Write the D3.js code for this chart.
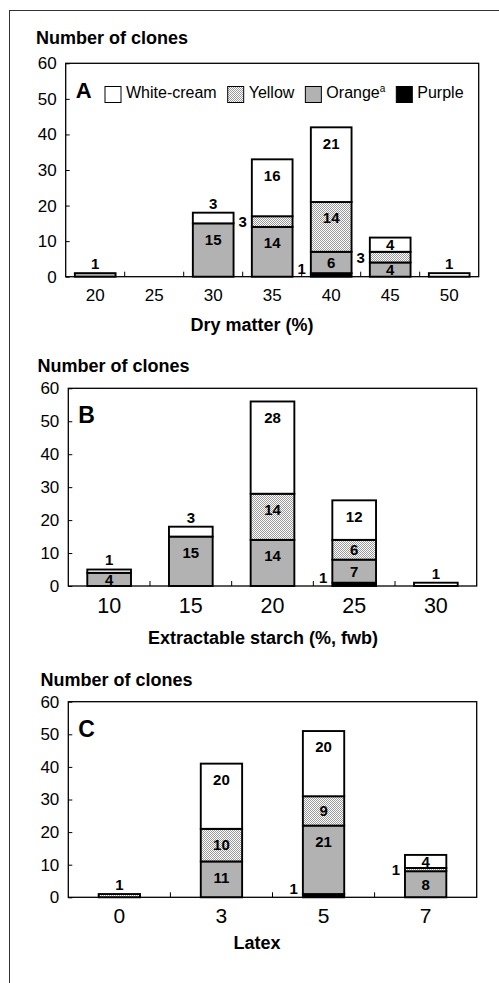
<!DOCTYPE html>
<meta charset="utf-8">
<style>
  body { margin: 0; background: #fff; }
  text { font-family: Arial, "Liberation Sans", sans-serif; }
</style>
<body>
<div id="chart"></div>
<script src="https://d3js.org/d3.v7.min.js"></script>
<script>

// colour classes, stacked bottom -> top
const keys = ["Purple", "Orange", "Yellow", "White-cream"];
const legendKeys = ["White-cream", "Yellow", "Orange", "Purple"];
const yTicks = [0, 10, 20, 30, 40, 50, 60];

// A: dry matter (%)
const catsA = ["20", "25", "30", "35", "40", "45", "50"];
const purpleA = [0, 0, 0, 0, 1, 0, 0];
const orangeA = [1, 0, 15, 14, 6, 4, 0];
const yellowA = [0, 0, 0, 3, 14, 3, 0];
const whiteA = [0, 0, 3, 16, 21, 4, 1];

// B: extractable starch (%, fwb)
const catsB = ["10", "15", "20", "25", "30"];
const purpleB = [0, 0, 0, 1, 0];
const orangeB = [4, 15, 14, 7, 0];
const yellowB = [0, 0, 14, 6, 0];
const whiteB = [1, 3, 28, 12, 1];

// C: latex
const catsC = ["0", "3", "5", "7"];
const purpleC = [0, 0, 1, 0];
const orangeC = [0, 11, 21, 8];
const yellowC = [1, 10, 9, 1];
const whiteC = [0, 20, 20, 4];

const svg = d3.select("#chart").append("svg")
    .attr("width", 499)
    .attr("height", 983);

// dotted fill for yellow
const pat = svg.append("defs").append("pattern")
    .attr("id", "dots")
    .attr("width", 2).attr("height", 2)
    .attr("patternUnits", "userSpaceOnUse");
pat.append("rect").attr("width", 2).attr("height", 2).attr("fill", "#fff");
pat.append("rect").attr("width", 1).attr("height", 1).attr("fill", "#9a9a9a");
pat.append("rect").attr("x", 1).attr("y", 1).attr("width", 1).attr("height", 1).attr("fill", "#9a9a9a");

const fills = {"Purple": "#000", "Orange": "#b2b2b2", "Yellow": "url(#dots)", "White-cream": "#fff"};

// outer frame
svg.append("rect")
    .attr("x", 9.5).attr("y", 10.5)
    .attr("width", 500).attr("height", 1000)
    .attr("fill", "none")
    .attr("stroke", "#333")
    .attr("stroke-width", 1);

function drawPanel(p) {
  const rows = p.cats.map((c, i) => ({
    cat: c, "Purple": p.purple[i], "Orange": p.orange[i], "Yellow": p.yellow[i], "White-cream": p.white[i]
  }));
  const stacked = d3.stack().keys(keys)(rows);

  const x = d3.scaleBand()
    .domain(p.cats)
    .range([p.left, p.right])
    .paddingInner(p.pad)
    .paddingOuter(p.pad / 2);

  const y = d3.scaleLinear()
    .domain([0, 60])
    .range([p.bottom, p.top]);

  const g = svg.append("g");

  // y label on top
  g.append("text")
    .attr("x", p.ylabX).attr("y", p.ylabY)
    .attr("font-size", 18).attr("font-weight", "bold")
    .text("Number of clones");

  // y axis
  const ya = g.append("g")
    .attr("transform", `translate(${p.left},0)`)
    .call(d3.axisLeft(y).tickValues(yTicks).tickSize(-4).tickPadding(9));
  ya.select(".domain").remove();
  ya.attr("font-family", null).attr("font-size", 17);
  ya.selectAll("line").attr("stroke", "#000");
  ya.selectAll("text").attr("fill", "#000");

  // x axis
  const xa = g.append("g")
    .attr("transform", `translate(0,${p.bottom})`)
    .call(d3.axisBottom(x).tickSize(0).tickPadding(p.xPad));
  xa.select(".domain").remove();
  xa.attr("font-family", null).attr("font-size", p.xFont);
  xa.selectAll("text").attr("fill", "#000");

  // bin separators
  g.selectAll("line.sep")
    .data(d3.range(1, p.cats.length))
    .join("line")
      .attr("x1", i => p.left + i * x.step())
      .attr("x2", i => p.left + i * x.step())
      .attr("y1", p.bottom)
      .attr("y2", p.bottom - 5)
      .attr("stroke", "#000");

  // bars
  g.append("g").selectAll("g")
    .data(stacked)
    .join("g")
      .attr("fill", d => fills[d.key])
    .selectAll("rect")
    .data(d => d.filter(s => s[1] - s[0] > 0))
    .join("rect")
      .attr("x", s => x(s.data.cat))
      .attr("y", s => y(s[1]))
      .attr("width", x.bandwidth())
      .attr("height", s => y(s[0]) - y(s[1]))
      .attr("stroke", "#000")
      .attr("stroke-width", 1.9);

  // plot box
  g.append("rect")
    .attr("x", p.left).attr("y", p.top)
    .attr("width", p.right - p.left)
    .attr("height", p.bottom - p.top)
    .attr("fill", "none")
    .attr("stroke", "#000")
    .attr("stroke-width", 1.3);

  // value labels
  const labels = [];
  stacked.forEach(layer => layer.forEach(s => {
    const v = s[1] - s[0];
    if (v <= 0) return;
    const top = y(s[1]), h = y(s[0]) - top;
    const cx = x(s.data.cat) + x.bandwidth() / 2;
    const total = d3.sum(keys, k => s.data[k]);
    if (h >= 12) labels.push({v, lx: cx, ly: top + Math.min(h / 2, 16), a: "middle"});
    else if (s[1] === total) labels.push({v, lx: cx, ly: top - 9.5, a: "middle"});
    else labels.push({v, lx: x(s.data.cat) - 5, ly: Math.min(top + h / 2, p.bottom - 8.5), a: "end"});
  }));
  g.selectAll("text.val")
    .data(labels)
    .join("text")
      .attr("class", "val")
      .attr("x", d => d.lx)
      .attr("y", d => d.ly)
      .attr("dy", "0.36em")
      .attr("text-anchor", d => d.a)
      .attr("font-size", 15)
      .attr("font-weight", "bold")
      .text(d => d.v);

  // panel letter
  g.append("text")
    .attr("x", p.left + 10).attr("y", p.letterY)
    .attr("font-size", p.letterSize).attr("font-weight", "bold")
    .text(p.letter);

  // x title
  g.append("text")
    .attr("x", p.titleX).attr("y", p.titleY)
    .attr("text-anchor", "middle")
    .attr("font-size", 18).attr("font-weight", "bold")
    .text(p.title);

  return g;
}

const gA = drawPanel({
  cats: catsA, purple: purpleA, orange: orangeA, yellow: yellowA, white: whiteA,
  left: 65.7, right: 478.7, top: 63.3, bottom: 276.7, pad: 0.31,
  xFont: 17, xPad: 12,
  ylabX: 36, ylabY: 44,
  letter: "A", letterY: 98, letterSize: 22,
  title: "Dry matter (%)", titleX: 252, titleY: 331
});

drawPanel({
  cats: catsB, purple: purpleB, orange: orangeB, yellow: yellowB, white: whiteB,
  left: 68.3, right: 476.7, top: 388.3, bottom: 586, pad: 0.465,
  xFont: 21.5, xPad: 11.5,
  ylabX: 37.5, ylabY: 371.5,
  letter: "B", letterY: 423, letterSize: 23,
  title: "Extractable starch (%, fwb)", titleX: 263, titleY: 644
});

drawPanel({
  cats: catsC, purple: purpleC, orange: orangeC, yellow: yellowC, white: whiteC,
  left: 68.3, right: 476.7, top: 701.7, bottom: 897.3, pad: 0.595,
  xFont: 21, xPad: 11,
  ylabX: 40.5, ylabY: 685.5,
  letter: "C", letterY: 737, letterSize: 23,
  title: "Latex", titleX: 257, titleY: 949
});

// legend (panel A only)
const leg = gA.append("g").attr("font-size", 16);
let lx = 105;
legendKeys.forEach(k => {
  leg.append("rect")
    .attr("x", lx).attr("y", 86.5)
    .attr("width", 16).attr("height", 16)
    .attr("fill", fills[k])
    .attr("stroke", "#000")
    .attr("stroke-width", 1);
  const t = leg.append("text")
    .attr("x", lx + 21).attr("y", 97.5)
    .text(k);
  if (k === "Orange") {
    t.append("tspan").attr("font-size", 10).attr("dy", -6).text("a");
  }
  lx += 21 + t.node().getComputedTextLength() + 11;
});

</script>
</body>
